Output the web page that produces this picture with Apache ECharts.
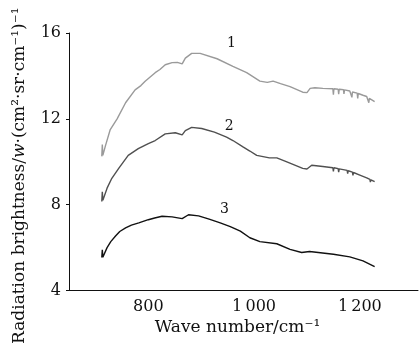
<!DOCTYPE html>
<html>
<head>
<meta charset="utf-8">
<script src="https://cdn.jsdelivr.net/npm/echarts@6/dist/echarts.min.js"></script>
<style>
  html, body { margin: 0; padding: 0; background: #fff; }
  #chart { width: 420px; height: 347px; }
</style>
</head>
<body>
<div id="chart"></div>
<script>
// wave number (cm^-1), brightness
const curve1 = [
  [712, 10.25], [713, 10.8], [714, 10.3], [719, 10.75], [728, 11.5], [741, 12.0],
  [757, 12.75], [775, 13.35], [786, 13.55], [794, 13.75], [813, 14.15], [822, 14.3],
  [832, 14.52], [845, 14.62], [855, 14.63], [864, 14.56], [870, 14.83], [882, 15.05],
  [898, 15.05], [930, 14.8], [960, 14.45], [986, 14.15], [1011, 13.76], [1025, 13.7],
  [1036, 13.76], [1050, 13.64], [1068, 13.5], [1092, 13.24], [1100, 13.22], [1106, 13.42],
  [1115, 13.45], [1130, 13.42], [1149, 13.4], [1150, 13.12], [1151, 13.4], [1159, 13.38],
  [1160, 13.15], [1161, 13.38], [1169, 13.36], [1170, 13.16], [1171, 13.35], [1181, 13.3],
  [1184, 13.26], [1185, 13.0], [1186, 13.25], [1195, 13.2], [1196, 12.95], [1197, 13.18],
  [1206, 13.1], [1213, 13.04], [1216, 12.98], [1217, 12.75], [1218, 12.95], [1228, 12.8]
]
const curve2 = [
  [712, 8.15], [713, 8.6], [714, 8.2], [722, 8.77], [731, 9.23], [744, 9.69],
  [762, 10.3], [781, 10.61], [800, 10.84], [813, 10.99], [832, 11.3], [851, 11.35],
  [864, 11.25], [870, 11.45], [882, 11.6], [901, 11.55], [925, 11.38], [948, 11.15],
  [960, 10.99], [979, 10.69], [992, 10.5], [1005, 10.3], [1029, 10.18], [1043, 10.18],
  [1062, 9.99], [1092, 9.69], [1100, 9.66], [1109, 9.84], [1130, 9.78], [1149, 9.72],
  [1150, 9.55], [1151, 9.72], [1159, 9.68], [1160, 9.52], [1161, 9.67], [1176, 9.6],
  [1177, 9.45], [1178, 9.58], [1186, 9.52], [1187, 9.36], [1188, 9.5], [1200, 9.38],
  [1213, 9.25], [1219, 9.18], [1220, 9.05], [1221, 9.16], [1228, 9.07]
]
const curve3 = [
  [712, 5.54], [713, 5.9], [714, 5.55], [722, 6.0], [729, 6.28], [738, 6.54],
  [746, 6.75], [757, 6.92], [768, 7.05], [782, 7.15], [800, 7.3], [812, 7.38],
  [826, 7.46], [845, 7.43], [864, 7.35], [876, 7.53], [895, 7.48], [915, 7.33],
  [936, 7.15], [955, 6.98], [974, 6.77], [992, 6.46], [1011, 6.28], [1043, 6.18],
  [1068, 5.92], [1090, 5.77], [1105, 5.82], [1150, 5.69], [1181, 5.57], [1206, 5.38],
  [1228, 5.11]
]
const curveNames = ['1', '2', '3']
const curveColors = ['#9a9a9a', '#505050', '#111111']
const labelPos = [[957, 15.5], [953, 11.65], [944, 7.77]]
const xTicks = [800, 1000, 1200]

const serif = 'DejaVu Serif'
const chart = echarts.init(document.getElementById('chart'), null, { renderer: 'canvas' })

const fmtWave = v => v >= 1000 ? Math.floor(v / 1000) + '\u2009' + String(v % 1000).padStart(3, '0') : String(v)

chart.setOption({
  animation: false,
  backgroundColor: '#fff',
  grid: { left: 69, right: 2, top: 33, bottom: 54 },
  xAxis: {
    type: 'value',
    min: 650,
    max: 1310,
    name: 'Wave number/cm\u207B\u00B9',
    nameLocation: 'middle',
    nameGap: 26,
    nameTextStyle: { fontFamily: serif, fontSize: 17, color: '#111', padding: [0, 12, 0, 0] },
    axisLine: { lineStyle: { color: '#111', width: 1 } },
    axisTick: { show: false },
    splitLine: { show: false },
    axisLabel: {
      customValues: xTicks,
      formatter: fmtWave,
      fontFamily: serif, fontSize: 16, color: '#111', margin: 8
    }
  },
  yAxis: {
    type: 'value',
    min: 4,
    max: 16,
    interval: 4,
    name: 'Radiation brightness/{i|w}\u00B7(cm\u00B2\u00B7sr\u00B7cm\u207B\u00B9)\u207B\u00B9',
    nameLocation: 'middle',
    nameRotate: 90,
    nameGap: 41,
    nameTextStyle: {
      fontFamily: serif, fontSize: 17, color: '#111', padding: [0, 28, 0, 0],
      rich: { i: { fontFamily: serif, fontSize: 17, fontStyle: 'italic', color: '#111' } }
    },
    axisLine: { show: true, lineStyle: { color: '#111', width: 1 } },
    axisTick: { show: true, length: 3, lineStyle: { color: '#111' } },
    splitLine: { show: false },
    axisLabel: { fontFamily: serif, fontSize: 16, color: '#111', margin: 8 }
  },
  series: [curve1, curve2, curve3].map((d, i) => ({
    type: 'line',
    name: curveNames[i],
    data: d,
    showSymbol: false,
    symbol: 'none',
    lineStyle: { color: curveColors[i], width: 1.4 },
    markPoint: {
      symbol: 'circle',
      symbolSize: 0,
      data: [{ coord: labelPos[i], value: curveNames[i] }],
      label: { show: true, position: 'inside', formatter: curveNames[i], fontFamily: serif, fontSize: 14, color: '#111' }
    }
  }))
})
</script>
</body>
</html>
